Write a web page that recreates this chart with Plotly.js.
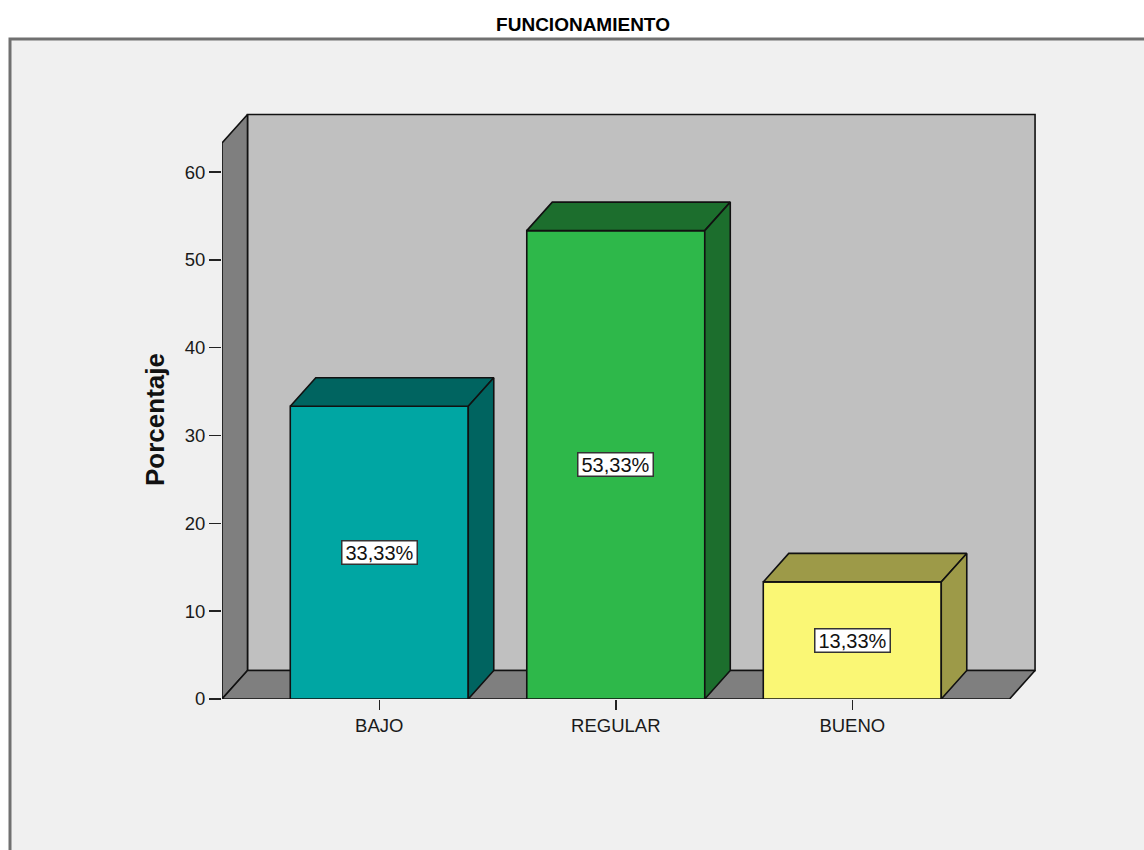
<!DOCTYPE html>
<html>
<head>
<meta charset="utf-8">
<script src="https://cdn.plot.ly/plotly-3.0.1.min.js"></script>
<style>
  html, body { margin: 0; padding: 0; background: #ffffff; }
  #chart { width: 1144px; height: 850px; }
</style>
</head>
<body>
<div id="chart"></div>
<script>
// Data
const categories = ['BAJO', 'REGULAR', 'BUENO'];
const percentages = [33.33, 53.33, 13.33];
const yTickValues = [0, 10, 20, 30, 40, 50, 60];
const frontColors = ['#00a6a3', '#2eb84a', '#faf775'];
const shadeColors = ['#006460', '#1c6e2d', '#9d9a48'];

// Page geometry (pixels)
const W = 1144, H = 850;
const M = { l: 222, r: 104, t: 100, b: 151 };
const plotW = W - M.l - M.r;
const plotH = H - M.t - M.b;
const PX_PER_CAT = 236.5;       // pixels between category centres
const PX_PER_UNIT = 8.783;      // pixels per percentage point
const X_START = -0.665;         // left edge of the floor, category units
const X_END = 2.665;            // right edge of the floor
const WALL_TOP = 63.3;          // height of the walls, axis units
const DX = 25.5 / PX_PER_CAT;   // depth offset, x
const DY = 28.5 / PX_PER_UNIT;  // depth offset, y
const HALF = 89 / PX_PER_CAT;   // half bar width

const xRange = [X_START, X_START + plotW / PX_PER_CAT];
const yRange = [0, plotH / PX_PER_UNIT];

function poly(xs, ys, fill, name) {
  return {
    type: 'scatter', mode: 'lines', name: name,
    x: xs.concat([xs[0]]), y: ys.concat([ys[0]]),
    fill: 'toself', fillcolor: fill,
    line: { color: '#111111', width: 1.6 },
    hoverinfo: 'skip', showlegend: false
  };
}

const traces = [];
// Back wall
traces.push(poly([X_START + DX, X_END + DX, X_END + DX, X_START + DX],
                 [DY, DY, WALL_TOP + DY, WALL_TOP + DY], '#c0c0c0', 'back'));
// Left wall
traces.push(poly([X_START, X_START + DX, X_START + DX, X_START],
                 [0, DY, WALL_TOP + DY, WALL_TOP], '#7f7f7f', 'left'));
// Floor
traces.push(poly([X_START, X_END, X_END + DX, X_START + DX],
                 [0, 0, DY, DY], '#7f7f7f', 'floor'));

// Bars: front face, top face, right face
categories.forEach((c, i) => {
  const v = percentages[i];
  const a = i - HALF, b = i + HALF;
  traces.push(poly([a, b, b, a], [0, 0, v, v], frontColors[i], c));
  traces.push(poly([a, b, b + DX, a + DX], [v, v, v + DY, v + DY], shadeColors[i], c));
  traces.push(poly([b, b + DX, b + DX, b], [0, DY, v + DY, v], shadeColors[i], c));
});

const toPaperX = px => (px - M.l) / plotW;
const toPaperY = py => (H - M.b - py) / plotH;

const annotations = percentages.map((v, i) => ({
  x: i, y: v / 2, xref: 'x', yref: 'y',
  text: v.toFixed(2).replace('.', ',') + '%',
  showarrow: false,
  font: { family: 'Liberation Sans, Arial, sans-serif', size: 20, color: '#111111' },
  bgcolor: '#ffffff', bordercolor: '#333333', borderwidth: 1.5, borderpad: 1,
  width: 72, height: 20
}));

annotations.push({
  xref: 'paper', yref: 'paper', x: toPaperX(155), y: toPaperY(420),
  text: '<b>Porcentaje</b>', textangle: -90, showarrow: false,
  xanchor: 'center', yanchor: 'middle',
  font: { family: 'Liberation Sans, Arial, sans-serif', size: 26, color: '#111111' }
});

const layout = {
  width: W, height: H,
  margin: M,
  paper_bgcolor: '#ffffff',
  plot_bgcolor: 'rgba(0,0,0,0)',
  title: {
    text: '<b>FUNCIONAMIENTO</b>',
    font: { family: 'Liberation Sans, Arial, sans-serif', size: 19, color: '#000000' },
    xref: 'container', yref: 'container',
    x: 583 / W, y: 1 - 24 / H, xanchor: 'center', yanchor: 'middle'
  },
  xaxis: {
    range: xRange, fixedrange: true,
    tickvals: categories.map((c, i) => i), ticktext: categories,
    ticks: 'outside', ticklen: 10, tickwidth: 1.5, tickcolor: '#222222',
    showline: false, showgrid: false, zeroline: false,
    tickfont: { family: 'Liberation Sans, Arial, sans-serif', size: 18.5, color: '#1a1a1a' }
  },
  yaxis: {
    range: yRange, fixedrange: true,
    tickvals: yTickValues,
    ticks: 'outside', ticklen: 12, tickwidth: 1.5, tickcolor: '#222222',
    showline: false, showgrid: false, zeroline: false,
    tickfont: { family: 'Liberation Sans, Arial, sans-serif', size: 18.5, color: '#1a1a1a' }
  },
  shapes: [{
    type: 'rect', xref: 'paper', yref: 'paper', layer: 'below',
    x0: toPaperX(10), x1: toPaperX(1160), y0: toPaperY(39), y1: toPaperY(870),
    line: { color: '#707070', width: 3 }, fillcolor: '#f0f0f0'
  }],
  annotations: annotations
};

Plotly.newPlot('chart', traces, layout, { displayModeBar: false, staticPlot: true });
</script>
</body>
</html>
